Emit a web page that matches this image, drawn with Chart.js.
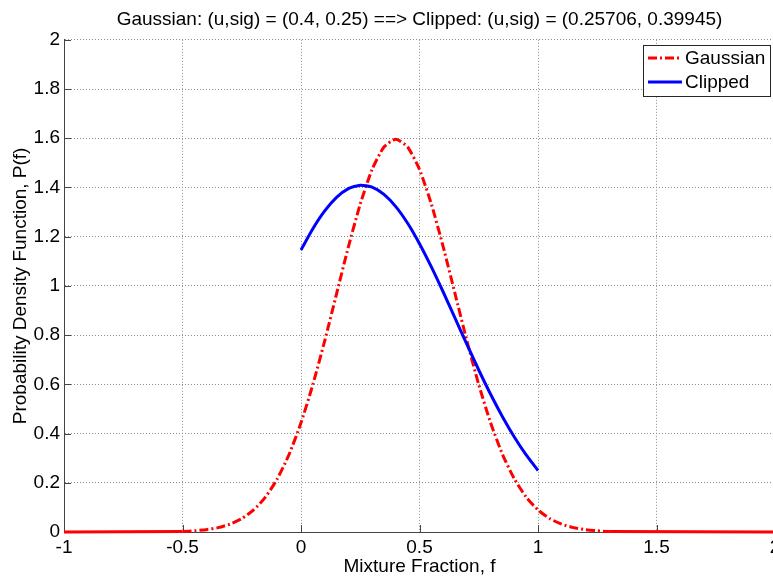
<!DOCTYPE html>
<html>
<head>
<meta charset="utf-8">
<script src="https://cdn.jsdelivr.net/npm/chart.js@4"></script>
<style>
html, body { margin: 0; padding: 0; background: #fff; overflow: hidden; }
canvas { display: block; }
</style>
</head>
<body>
<canvas id="pdfChart" width="785" height="579"></canvas>
<script>
// values
const chartTitle = 'Gaussian: (u,sig) = (0.4, 0.25) ==> Clipped: (u,sig) = (0.25706, 0.39945)';
const xLabel = 'Mixture Fraction, f';
const yLabel = 'Probability Density Function, P(f)';

const gaussX = [-1, -0.5, -0.45, -0.4, -0.35, -0.3, -0.25, -0.2, -0.15, -0.1, -0.05,
    0, 0.05, 0.1, 0.15, 0.2, 0.25, 0.3, 0.35, 0.4, 0.45, 0.5, 0.55, 0.6, 0.65, 0.7,
    0.75, 0.8, 0.85, 0.9, 0.95, 1, 1.05, 1.1, 1.15, 1.2, 1.25, 1.3, 2];
const gaussY = [0, 0.0025, 0.0049, 0.0095, 0.0177, 0.0317, 0.0543, 0.0896, 0.1419, 0.216, 0.3158,
    0.4437, 0.5989, 0.7768, 0.9679, 1.1588, 1.3329, 1.4731, 1.5642, 1.5958, 1.5642, 1.4731, 1.3329, 1.1588, 0.9679, 0.7768,
    0.5989, 0.4437, 0.3158, 0.216, 0.1419, 0.0896, 0.0543, 0.0317, 0.0177, 0.0095, 0.0049, 0.0025, 0];

const clipX = [0, 0.05, 0.1, 0.15, 0.2, 0.25, 0.3, 0.35, 0.4, 0.45, 0.5,
    0.55, 0.6, 0.65, 0.7, 0.75, 0.8, 0.85, 0.9, 0.95, 1];
const clipY = [1.146, 1.2323, 1.3047, 1.3598, 1.3952, 1.4094, 1.4015, 1.372, 1.3222, 1.2544, 1.1715,
    1.0772, 0.9752, 0.8689, 0.7623, 0.6583, 0.5596, 0.4684, 0.386, 0.3131, 0.25];

const xMin = -1, xMax = 2, xStep = 0.5;
const yMin = 0, yMax = 2, yStep = 0.2;

const FONT = '"Liberation Sans", Arial, sans-serif';
const dashDot = [9, 3, 2, 3];

const toPoints = (xs, ys) => xs.map((x, i) => ({x: x, y: ys[i]}));

// matlab style legend box drawn in the upper right of the axes
const boxLegend = {
    id: 'boxLegend',
    afterDraw(chart) {
        const ctx = chart.ctx;
        ctx.save();
        ctx.fillStyle = '#fff';
        ctx.fillRect(643.5, 45.5, 127, 51);
        ctx.strokeStyle = '#262626';
        ctx.lineWidth = 1;
        ctx.strokeRect(643.5, 45.5, 127, 51);
        ctx.font = '19px ' + FONT;
        ctx.textBaseline = 'middle';
        ctx.fillStyle = '#000';
        chart.data.datasets.forEach((ds, i) => {
            const y = 58 + i * 24;
            ctx.beginPath();
            ctx.setLineDash(ds.borderDash || []);
            ctx.strokeStyle = ds.borderColor;
            ctx.lineWidth = 3;
            ctx.moveTo(648, y);
            ctx.lineTo(682, y);
            ctx.stroke();
            ctx.setLineDash([]);
            ctx.fillText(ds.label, 685, y + 1);
        });
        ctx.restore();
    }
};

// short inward ticks like matlab axes
const innerTicks = {
    id: 'innerTicks',
    beforeDatasetsDraw(chart) {
        const {ctx, chartArea, scales} = chart;
        ctx.save();
        ctx.strokeStyle = '#444';
        ctx.lineWidth = 1;
        ctx.beginPath();
        scales.x.ticks.forEach(t => {
            const px = Math.round(scales.x.getPixelForValue(t.value)) + 0.5;
            ctx.moveTo(px, chartArea.bottom);
            ctx.lineTo(px, chartArea.bottom - 7);
        });
        scales.y.ticks.forEach(t => {
            const py = Math.round(scales.y.getPixelForValue(t.value)) + 0.5;
            ctx.moveTo(chartArea.left, py);
            ctx.lineTo(chartArea.left + 7, py);
        });
        ctx.stroke();
        ctx.restore();
    }
};

new Chart(document.getElementById('pdfChart').getContext('2d'), {
    type: 'line',
    data: {
        datasets: [
            {
                label: 'Gaussian',
                data: toPoints(gaussX, gaussY),
                borderColor: '#ff0000',
                borderWidth: 3,
                borderDash: dashDot,
                pointRadius: 0,
                tension: 0.2,
                order: 2,
                // flat tails look solid in the original
                segment: {
                    borderDash: c => (c.p0.parsed.y < 0.003 && c.p1.parsed.y < 0.003) ? [] : dashDot
                }
            },
            {
                label: 'Clipped',
                data: toPoints(clipX, clipY),
                borderColor: '#0000ff',
                borderWidth: 3,
                pointRadius: 0,
                tension: 0.2,
                order: 1
            }
        ]
    },
    options: {
        responsive: false,
        animation: false,
        clip: false,
        layout: {padding: {left: 0, right: 10, top: 0, bottom: 0}},
        plugins: {
            legend: {display: false},
            tooltip: {enabled: false},
            title: {
                display: true,
                text: chartTitle,
                fullSize: false,
                color: '#000',
                font: {family: FONT, size: 19, weight: 'normal'},
                padding: {top: 8, bottom: 9}
            }
        },
        scales: {
            x: {
                type: 'linear',
                min: xMin,
                max: xMax,
                afterFit: s => { s.height = 47; },
                ticks: {
                    stepSize: xStep,
                    color: '#000',
                    padding: 4,
                    maxRotation: 0,
                    font: {family: FONT, size: 19},
                    callback: v => String(+v.toFixed(1))
                },
                grid: {color: '#8c8c8c', drawTicks: false},
                border: {display: true, color: '#444', width: 1, dash: [1, 2]},
                title: {
                    display: true,
                    text: xLabel,
                    color: '#000',
                    font: {family: FONT, size: 19},
                    padding: {top: 0, bottom: 1}
                }
            },
            y: {
                type: 'linear',
                min: yMin,
                max: yMax,
                afterFit: s => { s.width = 64; },
                ticks: {
                    stepSize: yStep,
                    color: '#000',
                    padding: 4,
                    font: {family: FONT, size: 19},
                    callback: v => String(+v.toFixed(1))
                },
                grid: {color: '#8c8c8c', drawTicks: false},
                border: {display: true, color: '#444', width: 1, dash: [1, 2]},
                title: {
                    display: true,
                    text: yLabel,
                    color: '#000',
                    font: {family: FONT, size: 19},
                    padding: {top: 9, bottom: 0}
                }
            }
        }
    },
    plugins: [innerTicks, boxLegend]
});
</script>
</body>
</html>
